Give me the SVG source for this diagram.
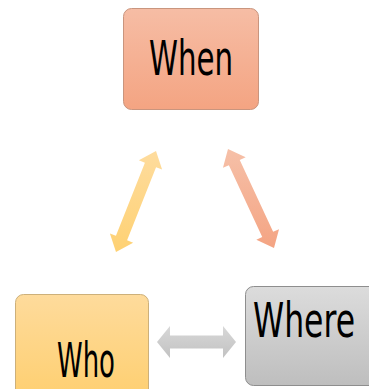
<svg xmlns="http://www.w3.org/2000/svg" width="369" height="389" viewBox="0 0 369 389">
  <defs>
    <linearGradient id="gWhen" x1="0" y1="0" x2="0" y2="1">
      <stop offset="0" stop-color="#F6BDA5"/>
      <stop offset="1" stop-color="#F4A482"/>
    </linearGradient>
    <linearGradient id="gWho" x1="0" y1="0" x2="0" y2="1">
      <stop offset="0" stop-color="#FEDB9C"/>
      <stop offset="1" stop-color="#FECF70"/>
    </linearGradient>
    <linearGradient id="gWhere" x1="0" y1="0" x2="0" y2="1">
      <stop offset="0" stop-color="#DCDCDC"/>
      <stop offset="1" stop-color="#BEBEBE"/>
    </linearGradient>
    <linearGradient id="gArrowWho" gradientUnits="userSpaceOnUse" x1="0" y1="150" x2="0" y2="252">
      <stop offset="0" stop-color="#FEDC9E"/>
      <stop offset="1" stop-color="#FED173"/>
    </linearGradient>
    <linearGradient id="gArrowWhen" gradientUnits="userSpaceOnUse" x1="0" y1="149" x2="0" y2="248">
      <stop offset="0" stop-color="#F6C0A8"/>
      <stop offset="1" stop-color="#F4A483"/>
    </linearGradient>
    <linearGradient id="gArrowWhere" gradientUnits="userSpaceOnUse" x1="0" y1="326" x2="0" y2="358">
      <stop offset="0" stop-color="#D8D8D8"/>
      <stop offset="1" stop-color="#C2C2C2"/>
    </linearGradient>
  </defs>
  <style>
    .box { stroke-width: 1; }
    .label { font-family: "Liberation Sans Narrow", "DejaVu Sans Condensed", "Open Sans", sans-serif; font-size: 48px; fill: #000000; }
  </style>

  <rect width="369" height="389" fill="#FFFFFF"/>

  <!-- connectors: double-headed block arrows -->
  <g id="connectors">
    <polygon fill="url(#gArrowWho)" points="156,151 162.1,169.55 156.06,167.16 127.1,240.26 133.14,242.65 116,252 109.9,233.45 115.94,235.84 144.9,162.74 138.86,160.35"/>
    <polygon fill="url(#gArrowWhen)" points="228,149 245.66,157.33 239.76,160.07 273.12,231.87 279.02,229.13 274,248 256.34,239.67 262.24,236.93 228.88,165.13 222.98,167.87"/>
    <polygon fill="url(#gArrowWhere)" points="157,342 170,326 170,335.5 223,335.5 223,326 236,342 223,358 223,348.5 170,348.5 170,358"/>
  </g>

  <g id="node-when">
    <rect class="box" x="123.5" y="8.5" width="135" height="101" rx="8" fill="url(#gWhen)" stroke="#C9957E"/>
    <text class="label" x="149" y="75" textLength="84" lengthAdjust="spacingAndGlyphs">When</text>
  </g>

  <g id="node-who">
    <rect class="box" x="15.5" y="294.5" width="133" height="105" rx="8" fill="url(#gWho)" stroke="#CDB07A"/>
    <text class="label" x="57" y="377" textLength="58" lengthAdjust="spacingAndGlyphs">Who</text>
  </g>

  <g id="node-where">
    <rect class="box" x="245.5" y="286.5" width="135" height="99" rx="8" fill="url(#gWhere)" stroke="#8E8E8E"/>
    <text class="label" x="253" y="337" textLength="102" lengthAdjust="spacingAndGlyphs">Where</text>
  </g>
</svg>
